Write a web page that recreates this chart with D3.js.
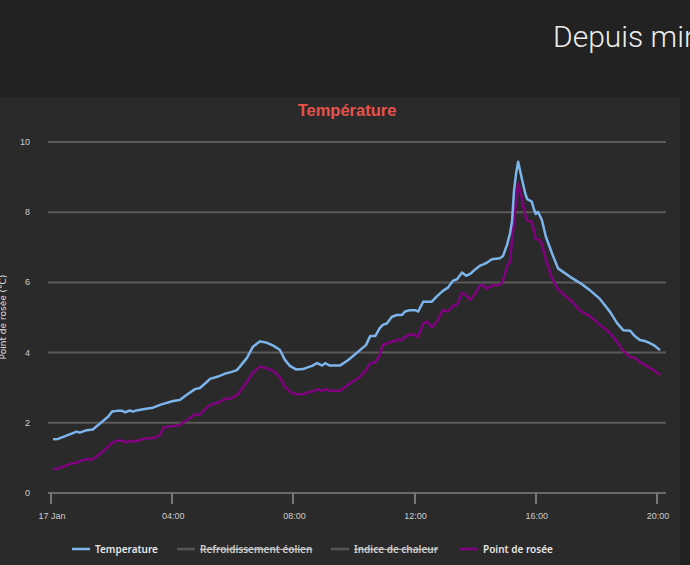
<!DOCTYPE html>
<html><head><meta charset="utf-8">
<script src="https://cdn.jsdelivr.net/npm/d3@7"></script>
<style>
html,body{margin:0;padding:0;background:#222;overflow:hidden;}
svg{display:block;}
</style></head>
<body>
<svg id="c" width="690" height="565"></svg>
<script>
const times = ["00:04","00:14","00:28","00:42","00:51","00:57","01:11","01:23","01:31","01:43","01:53","02:01","02:11","02:21","02:27","02:36","02:42","02:52","03:00","03:12","03:22","03:36","03:42","03:50","04:02","04:15","04:29","04:45","04:55","05:09","05:15","05:29","05:45","05:58","06:08","06:14","06:28","06:40","06:54","07:08","07:20","07:33","07:43","07:53","08:05","08:19","08:27","08:37","08:47","08:57","09:03","09:12","09:32","09:48","10:12","10:24","10:32","10:42","10:51","10:57","11:05","11:15","11:25","11:35","11:41","11:51","12:01","12:07","12:17","12:25","12:34","12:44","12:56","13:06","13:16","13:24","13:34","13:42","13:50","14:00","14:10","14:17","14:23","14:33","14:49","14:55","15:03","15:09","15:13","15:17","15:21","15:25","15:33","15:39","15:43","15:52","15:56","16:00","16:04","16:08","16:12","16:20","16:32","16:44","16:54","17:12","17:28","17:47","18:07","18:27","18:41","18:53","19:07","19:16","19:26","19:36","19:46","19:56","20:06"];
const temperature = [1.53,1.54,1.62,1.70,1.75,1.72,1.79,1.81,1.91,2.05,2.17,2.32,2.34,2.34,2.30,2.35,2.32,2.36,2.38,2.41,2.43,2.51,2.54,2.57,2.62,2.65,2.80,2.96,2.99,3.17,3.25,3.31,3.40,3.45,3.50,3.60,3.85,4.17,4.32,4.28,4.20,4.08,3.80,3.62,3.52,3.53,3.57,3.62,3.70,3.63,3.70,3.63,3.63,3.78,4.07,4.22,4.47,4.47,4.70,4.79,4.83,5.02,5.07,5.07,5.17,5.21,5.21,5.17,5.45,5.45,5.45,5.60,5.76,5.85,6.05,6.09,6.28,6.19,6.24,6.37,6.48,6.52,6.56,6.66,6.69,6.75,7.07,7.40,7.75,8.63,9.11,9.44,8.92,8.54,8.37,8.30,8.10,7.95,8.01,7.90,7.78,7.30,6.83,6.40,6.30,6.12,5.98,5.78,5.53,5.16,4.84,4.64,4.62,4.47,4.36,4.33,4.27,4.19,4.07];
const dewPoint = [0.68,0.70,0.77,0.85,0.86,0.91,0.96,0.96,1.05,1.18,1.32,1.43,1.49,1.49,1.44,1.49,1.46,1.49,1.53,1.56,1.56,1.65,1.84,1.89,1.91,1.94,2.08,2.24,2.24,2.44,2.51,2.57,2.68,2.70,2.79,2.89,3.17,3.43,3.60,3.55,3.48,3.31,3.03,2.89,2.81,2.81,2.86,2.89,2.95,2.91,2.96,2.91,2.91,3.08,3.31,3.50,3.70,3.72,3.93,4.22,4.26,4.31,4.36,4.36,4.45,4.52,4.50,4.45,4.83,4.88,4.72,4.88,5.21,5.17,5.33,5.36,5.71,5.64,5.50,5.67,5.93,5.91,5.81,5.91,5.93,6.05,6.45,6.59,7.21,7.80,8.30,8.82,8.35,7.92,7.76,7.73,7.49,7.23,7.22,7.21,7.10,6.64,6.12,5.80,5.67,5.45,5.19,5.04,4.79,4.56,4.30,4.05,3.87,3.85,3.73,3.65,3.56,3.48,3.36];
const yTicks = [0,2,4,6,8,10];
const xTickHours = [0,4,8,12,16,20];
const xTickLabels = ["17 Jan","04:00","08:00","12:00","16:00","20:00"];
const legendItems = [
  {name:"Temperature", color:"#7cb5ec", hidden:false},
  {name:"Refroidissement éolien", color:"#555", hidden:true},
  {name:"Indice de chaleur", color:"#555", hidden:true},
  {name:"Point de rosée", color:"#800080", hidden:false}
];

const svg = d3.select("#c");
// card
svg.append("rect").attr("x",0).attr("y",97).attr("width",680).attr("height",480).attr("fill","#2a2a2a");
svg.append("text").attr("x",553).attr("y",47).text("Depuis minuit")
  .attr("font-family","Roboto").attr("font-weight",300).attr("font-size",30).attr("fill","#eeeeee");

const base = new Date(2024,0,17,0,0);
const parse = s => { const [h,m]=s.split(":").map(Number); return new Date(2024,0,17,h,m); };
const data = times.map((t,i)=>({t:parse(t), temp:temperature[i], dew:dewPoint[i]}));

const x = d3.scaleTime().domain([base, new Date(2024,0,17,20,36)]).range([51, 51+20.6*30.3]);
const y = d3.scaleLinear().domain([0,10]).range([493,142]);
const L = 48, R = 666;

svg.append("text").attr("x",347).attr("y",116).attr("text-anchor","middle")
  .attr("font-family","Liberation Sans, Arial").attr("font-weight","bold").attr("font-size",16.5)
  .attr("fill","#e8524a").text("Température");

// grid
svg.append("g").selectAll("line").data(yTicks.filter(v=>v>0)).join("line")
  .attr("x1",L).attr("x2",R).attr("y1",d=>y(d)).attr("y2",d=>y(d))
  .attr("stroke","#5a5a5a").attr("stroke-width",2);
// y labels
svg.append("g").selectAll("text").data(yTicks).join("text")
  .attr("x",30).attr("y",d=>y(d)+3).attr("text-anchor","end")
  .attr("font-family","Liberation Sans, Arial").attr("font-size",9).attr("fill","#cccccc").text(d=>d);
svg.append("text").attr("transform","translate(6,317) rotate(-90)").attr("text-anchor","middle")
  .attr("font-family","DejaVu Sans").attr("font-size",9).attr("fill","#dddddd").text("Point de rosée (°C)");

// x axis
svg.append("line").attr("x1",L).attr("x2",R).attr("y1",493).attr("y2",493).attr("stroke","#6a6a6a").attr("stroke-width",2);
const xt = xTickHours.map(h=>new Date(2024,0,17,h,0));
svg.append("g").selectAll("line").data(xt).join("line")
  .attr("x1",d=>Math.round(x(d))).attr("x2",d=>Math.round(x(d))).attr("y1",493).attr("y2",504)
  .attr("stroke","#777").attr("stroke-width",2);
svg.append("g").selectAll("text").data(xt).join("text")
  .attr("x",d=>x(d)+1).attr("y",519).attr("text-anchor","middle")
  .attr("font-family","Liberation Sans, Arial").attr("font-size",9).attr("fill","#cccccc")
  .text((d,i)=>xTickLabels[i]);

// lines
const lineT = d3.line().x(d=>x(d.t)).y(d=>y(d.temp));
const lineD = d3.line().x(d=>x(d.t)).y(d=>y(d.dew));
svg.append("path").datum(data).attr("d",lineD).attr("fill","none").attr("stroke","#800080").attr("stroke-width",2.5).attr("stroke-linejoin","round");
svg.append("path").datum(data).attr("d",lineT).attr("fill","none").attr("stroke","#7cb5ec").attr("stroke-width",2.5).attr("stroke-linejoin","round");

// legend
const lx = [72,177,331,460];
const lg = svg.append("g").selectAll("g").data(legendItems).join("g")
  .attr("transform",(d,i)=>`translate(${lx[i]},549)`);
lg.append("line").attr("x1",0).attr("x2",18).attr("y1",0).attr("y2",0).attr("stroke",d=>d.color).attr("stroke-width",2.5);
lg.append("text").attr("x",23).attr("y",4).attr("font-family","Noto Sans").attr("font-weight",600).attr("font-size",10)
  .attr("fill",d=>d.hidden?"#cccccc":"#e6e6e6")
  .attr("text-decoration",d=>d.hidden?"line-through":null).text(d=>d.name);
</script>
</body></html>
